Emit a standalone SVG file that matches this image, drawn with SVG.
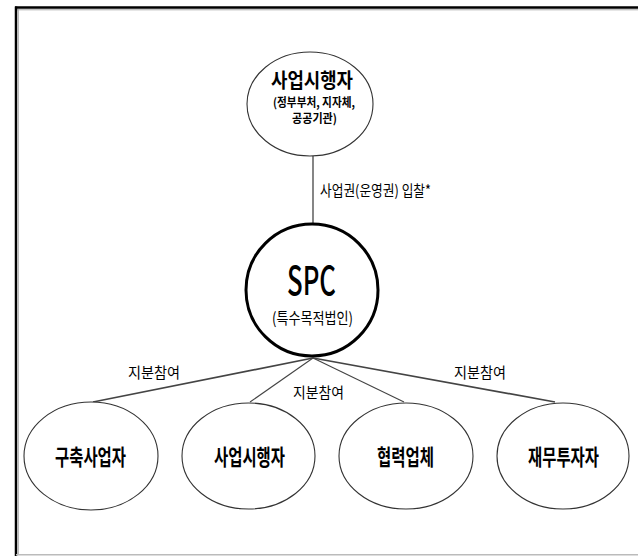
<svg xmlns="http://www.w3.org/2000/svg" width="638" height="556" viewBox="0 0 638 556">
<style>
.k{font-family:"Noto Sans CJK KR","Noto Sans",sans-serif;fill:#000;}
.b{font-weight:bold;}
.node{fill:#fff;stroke:#333;stroke-width:1.1;}
.conn{stroke:#444;fill:none;}
</style>
<rect x="0" y="0" width="638" height="556" fill="#fff"/>
<g id="frame">
<line x1="15" y1="7.5" x2="638" y2="7.5" stroke="#000" stroke-width="2.5"/>
<line x1="17" y1="9.8" x2="638" y2="9.8" stroke="#aaa" stroke-width="1"/>
<line x1="16" y1="6.5" x2="16" y2="556" stroke="#000" stroke-width="2.5"/>
<line x1="18.3" y1="9" x2="18.3" y2="554" stroke="#aaa" stroke-width="1"/>
<line x1="16" y1="554.8" x2="638" y2="554.8" stroke="#bbb" stroke-width="1.5"/>
</g>
<g id="connectors">
<line class="conn" x1="313" y1="156" x2="313" y2="224" stroke="#666" stroke-width="1.3"/>
<line class="conn" x1="313" y1="358" x2="93" y2="402" stroke-width="1.7"/>
<line class="conn" x1="313" y1="358" x2="250" y2="402" stroke-width="1.1"/>
<line class="conn" x1="313" y1="358" x2="404" y2="402" stroke-width="1.1"/>
<line class="conn" x1="313" y1="358" x2="555" y2="402" stroke-width="1.7"/>
<text class="k" x="320" y="196" font-size="15" textLength="111" lengthAdjust="spacingAndGlyphs">사업권(운영권) 입찰*</text>
<text class="k" x="128" y="378" font-size="15" textLength="52" lengthAdjust="spacingAndGlyphs">지분참여</text>
<text class="k" x="293" y="398" font-size="15" textLength="51" lengthAdjust="spacingAndGlyphs">지분참여</text>
<text class="k" x="454" y="378" font-size="15" textLength="52" lengthAdjust="spacingAndGlyphs">지분참여</text>
</g>
<g id="node-top">
<ellipse class="node" cx="310" cy="104" rx="63" ry="52"/>
<text class="k b" x="271" y="88" font-size="20" textLength="82" lengthAdjust="spacingAndGlyphs">사업시행자</text>
<text class="k b" x="273" y="107" font-size="12" textLength="82" lengthAdjust="spacingAndGlyphs">(정부부처, 지자체,</text>
<text class="k b" x="292" y="123" font-size="12" textLength="45" lengthAdjust="spacingAndGlyphs">공공기관)</text>
</g>
<g id="node-spc">
<circle cx="312" cy="290" r="66" fill="#fff" stroke="#000" stroke-width="3"/>
<text class="k" x="287" y="295" font-size="40" font-weight="500" textLength="49" lengthAdjust="spacingAndGlyphs">SPC</text>
<text class="k" x="272" y="324" font-size="16" textLength="81" lengthAdjust="spacingAndGlyphs" fill="#1c2236">(특수목적법인)</text>
</g>
<g id="node-builder">
<ellipse class="node" cx="91" cy="456" rx="67" ry="54"/>
<text class="k b" x="55" y="465" font-size="22" textLength="71" lengthAdjust="spacingAndGlyphs">구축사업자</text>
</g>
<g id="node-operator">
<ellipse class="node" cx="248.5" cy="456" rx="66.5" ry="53"/>
<text class="k b" x="214" y="465" font-size="22" textLength="71" lengthAdjust="spacingAndGlyphs">사업시행자</text>
</g>
<g id="node-partner">
<ellipse class="node" cx="406" cy="456" rx="67" ry="53"/>
<text class="k b" x="377" y="465" font-size="22" textLength="57" lengthAdjust="spacingAndGlyphs">협력업체</text>
</g>
<g id="node-investor">
<ellipse class="node" cx="563" cy="456" rx="66" ry="53"/>
<text class="k b" x="528" y="465" font-size="22" textLength="71" lengthAdjust="spacingAndGlyphs">재무투자자</text>
</g>
</svg>
